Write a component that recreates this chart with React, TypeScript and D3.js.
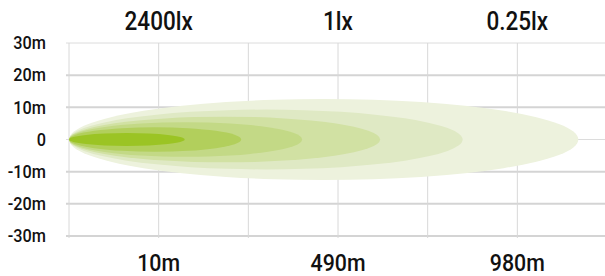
import React, { useRef, useEffect } from 'react';
import * as d3 from 'd3';

// y axis ticks (metres either side of the beam axis)
const yTicks = [30, 20, 10, 0, -10, -20, -30];
const yTickLabels = ['30m', '20m', '10m', '0', '-10m', '-20m', '-30m'];

// grid columns, labels sit on columns 1, 3, 5
const gridCols = [0, 1, 2, 3, 4, 5, 6];
const distCols = [1, 3, 5];
const distLabels = ['10m', '490m', '980m'];
const luxLabels = ['2400lx', '1lx', '0.25lx'];

// beam isolines: reach in grid columns, half width in metres
const beamReach = [5.68, 4.39, 3.47, 2.6, 1.92, 1.29];
const beamHalfWidth = [12.6, 9.3, 7.1, 5.4, 3.8, 2.0];
const beamColors = ['#edf2dd', '#dfe9c4', '#d1e1a3', '#c3d986', '#b2cf5c', '#9bc424'];

const App = () => {
  const svgRef = useRef(null);

  useEffect(() => {
    const width = 605;
    const height = 276;
    const font = 'Roboto, "Liberation Sans", Arial, sans-serif';

    const svg = d3.select(svgRef.current)
      .attr('width', width)
      .attr('height', height);

    svg.selectAll('*').remove();

    const x = d3.scaleLinear().domain([0, 6]).range([69, 607]);
    const y = d3.scaleLinear().domain([-30, 30]).range([236, 43]);

    // horizontal grid
    svg.append('g')
      .selectAll('line')
      .data(yTicks)
      .join('line')
      .attr('x1', 66)
      .attr('x2', width)
      .attr('y1', d => y(d))
      .attr('y2', d => y(d))
      .attr('stroke', d => (d === 30 || d === 0 ? '#dcdcdc' : '#d4d4d4'))
      .attr('stroke-width', d => (d === 30 || d === 0 ? 1 : 2));

    // vertical grid
    svg.append('g')
      .selectAll('line')
      .data(gridCols)
      .join('line')
      .attr('x1', d => x(d))
      .attr('x2', d => x(d))
      .attr('y1', y(30))
      .attr('y2', y(-30) + 2)
      .attr('stroke', '#d8d8d8')
      .attr('stroke-width', 1);

    // beam shapes, biggest first
    svg.append('g')
      .selectAll('ellipse')
      .data(beamReach)
      .join('ellipse')
      .attr('cx', d => (x(0) + x(d)) / 2)
      .attr('cy', y(0))
      .attr('rx', d => (x(d) - x(0)) / 2)
      .attr('ry', (d, i) => y(0) - y(beamHalfWidth[i]))
      .attr('fill', (d, i) => beamColors[i]);

    // y labels (font is condensed a bit to match)
    svg.append('g')
      .selectAll('text')
      .data(yTicks)
      .join('text')
      .attr('transform', d => `translate(46,${y(d)}) scale(0.93,1)`)
      .attr('dy', '0.36em')
      .attr('text-anchor', 'end')
      .attr('font-family', font)
      .attr('font-weight', 500)
      .attr('font-size', 17.5)
      .attr('fill', '#111')
      .text((d, i) => yTickLabels[i]);

    // lux labels on top
    svg.append('g')
      .selectAll('text')
      .data(distCols)
      .join('text')
      .attr('transform', d => `translate(${x(d)},30) scale(0.9,1)`)
      .attr('text-anchor', 'middle')
      .attr('font-family', font)
      .attr('font-weight', 500)
      .attr('font-size', 25)
      .attr('fill', '#111')
      .text((d, i) => luxLabels[i]);

    // distance labels at bottom
    svg.append('g')
      .selectAll('text')
      .data(distCols)
      .join('text')
      .attr('transform', d => `translate(${x(d)},271) scale(0.89,1)`)
      .attr('text-anchor', 'middle')
      .attr('font-family', font)
      .attr('font-weight', 500)
      .attr('font-size', 24)
      .attr('fill', '#111')
      .text((d, i) => distLabels[i]);
  }, []);

  return (
    <svg ref={svgRef} style={{ position: 'absolute', left: 0, top: 0 }}></svg>
  );
};

export default App;
